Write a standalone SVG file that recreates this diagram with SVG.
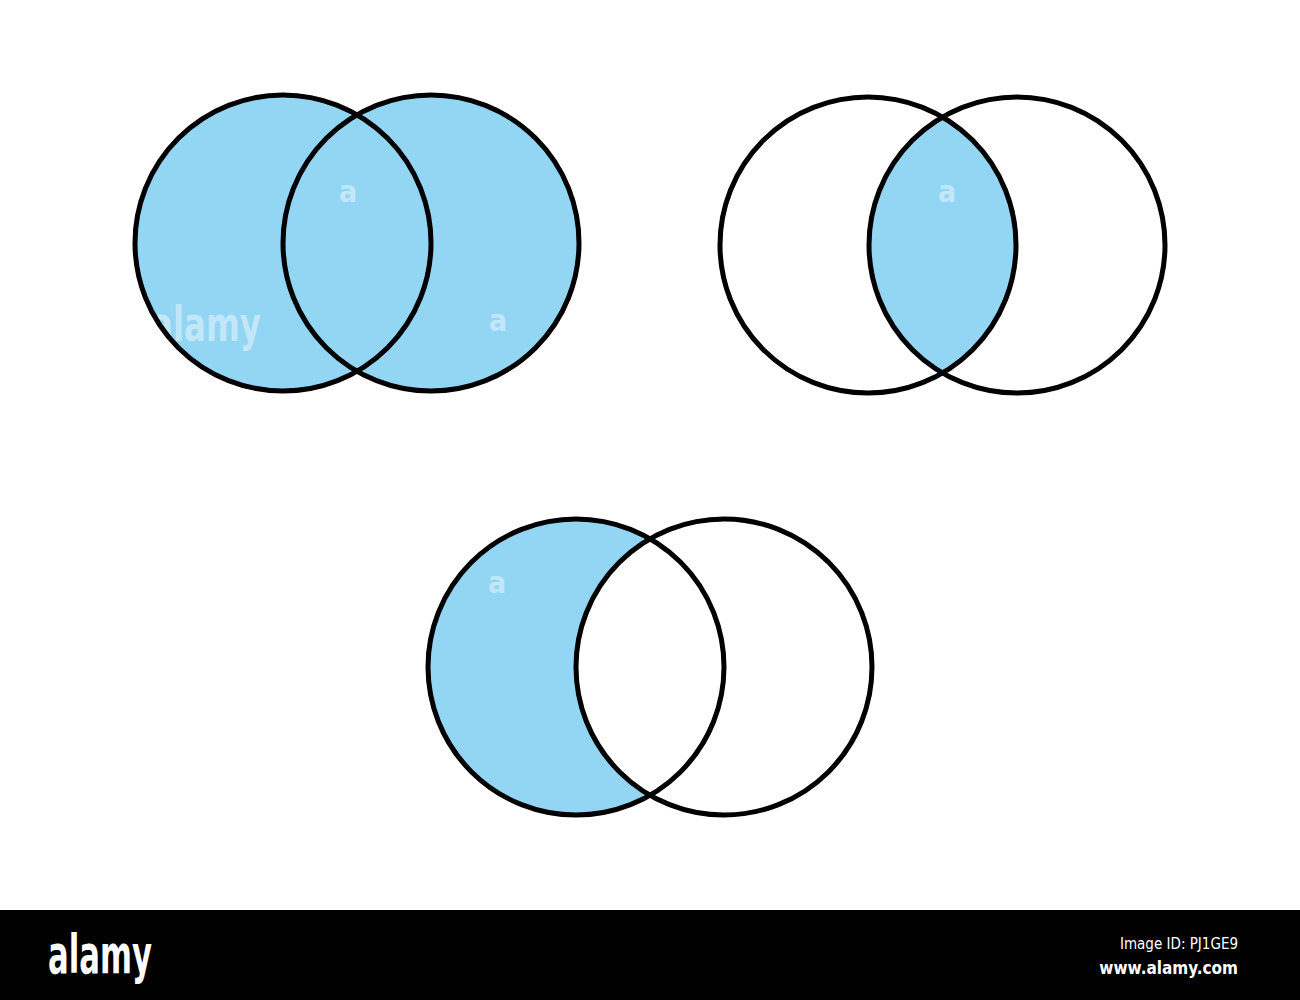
<svg xmlns="http://www.w3.org/2000/svg" width="1300" height="1000" viewBox="0 0 1300 1000">
<style>
.ring{fill:none;stroke:#000;stroke-width:5}
.blue{fill:#93d6f4}
.wm{fill:#ffffff;fill-opacity:0.45;font-family:"DejaVu Sans Condensed","DejaVu Sans",sans-serif;font-weight:bold}
.bar{fill:#ffffff;font-family:"DejaVu Sans Condensed","DejaVu Sans",sans-serif}
</style>
<defs>
<clipPath id="clipB"><circle cx="1017" cy="245" r="148"/></clipPath>
</defs>
<rect width="1300" height="1000" fill="#ffffff"/>
<g id="venn-union">
<circle class="blue" cx="283" cy="243" r="148"/>
<circle class="blue" cx="431" cy="243" r="148"/>
<text class="wm" x="348" y="202" font-size="30" text-anchor="middle">a</text>
<text class="wm" x="498" y="331" font-size="30" text-anchor="middle">a</text>
<text class="wm" x="206" y="341" font-size="48" text-anchor="middle" textLength="110" lengthAdjust="spacingAndGlyphs">alamy</text>
<circle class="ring" cx="283" cy="243" r="148"/>
<circle class="ring" cx="431" cy="243" r="148"/>
</g>
<g id="venn-intersection">
<circle class="blue" cx="868" cy="245" r="148" clip-path="url(#clipB)"/>
<text class="wm" x="947" y="202" font-size="30" text-anchor="middle">a</text>
<circle class="ring" cx="868" cy="245" r="148"/>
<circle class="ring" cx="1017" cy="245" r="148"/>
</g>
<g id="venn-difference">
<circle class="blue" cx="576" cy="667" r="148"/>
<circle fill="#ffffff" cx="724" cy="667" r="148"/>
<text class="wm" x="497" y="593" font-size="30" text-anchor="middle">a</text>
<circle class="ring" cx="576" cy="667" r="148"/>
<circle class="ring" cx="724" cy="667" r="148"/>
</g>
<g id="footer">
<rect x="0" y="910" width="1300" height="90" fill="#000000"/>
<text class="bar" x="48" y="973" font-size="54" font-weight="bold" textLength="104" lengthAdjust="spacingAndGlyphs">alamy</text>
<text class="bar" x="1238" y="949" font-size="15" text-anchor="end">Image ID: PJ1GE9</text>
<text class="bar" x="1238" y="974" font-size="17" font-weight="bold" text-anchor="end">www.alamy.com</text>
</g>
</svg>
